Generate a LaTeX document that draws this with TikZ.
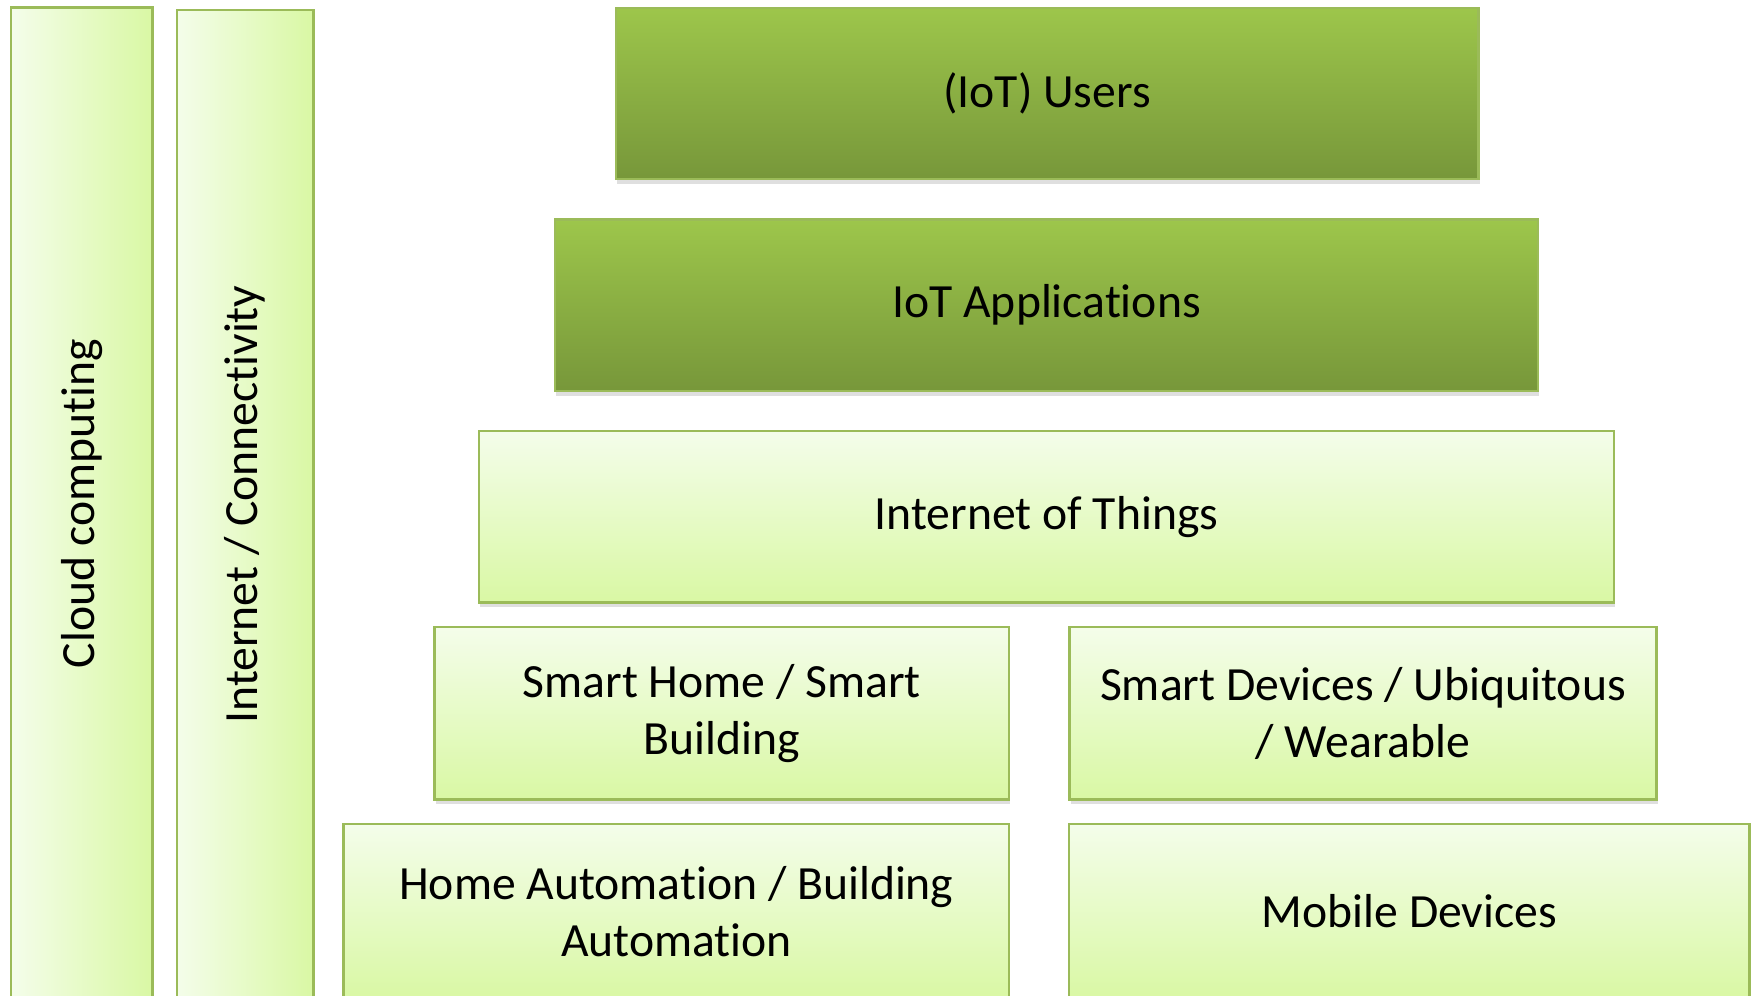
\documentclass[tikz,border=0pt]{standalone}
\usepackage{fontspec}
\setmainfont[Ligatures=NoCommon]{Carlito}
\usetikzlibrary{shadows}
\definecolor{lineg}{HTML}{9BBB59}
\definecolor{paletop}{HTML}{F4FDEA}
\definecolor{palebot}{HTML}{D9F8A4}
\definecolor{darktop}{HTML}{9DC64B}
\definecolor{darkbot}{HTML}{77973A}
\tikzset{
  layer/.style={draw=lineg, line width=0.6pt, inner sep=0pt, align=center,
    font=\fontsize{12.1pt}{14.5pt}\selectfont},
  palebox/.style={layer, top color=paletop, bottom color=palebot,
    drop shadow={shadow xshift=0.3pt, shadow yshift=-1.2pt, opacity=0.25}},
  darkbox/.style={layer, top color=darktop, bottom color=darkbot,
    drop shadow={shadow xshift=0.3pt, shadow yshift=-1.2pt, opacity=0.25}},
  pillar/.style={layer, left color=paletop, right color=palebot, rotate=90}
}
\begin{document}
\begin{tikzpicture}[x=0.01cm,y=-0.01cm]
            \useasboundingbox (0,0) rectangle (1568,889);
            \clip (0,0) rectangle (1568,889);
            \node[pillar,minimum width=8.85cm,minimum height=1.26cm] (cloud) at (73,449.5) {Cloud computing};
            \node[pillar,minimum width=8.83cm,minimum height=1.22cm] (inet) at (219,450.5) {Internet / Connectivity};
            \node[darkbox,minimum width=7.70cm,minimum height=1.53cm] (users) at (935,83.5) {(IoT) Users};
            \node[darkbox,minimum width=8.77cm,minimum height=1.53cm] (apps) at (934.5,272.5) {IoT Applications};
            \node[palebox,minimum width=10.13cm,minimum height=1.53cm] (iot) at (934.5,461.5) {Internet of Things};
            \node[palebox,minimum width=5.13cm,minimum height=1.54cm] (shome) at (644.5,637) {Smart Home / Smart\\Building};
            \node[palebox,minimum width=5.24cm,minimum height=1.54cm] (sdev) at (1217,637) {Smart Devices / Ubiquitous\\/ Wearable};
            \node[palebox,minimum width=5.94cm,minimum height=1.56cm] (hauto) at (604,814) {Home Automation / Building\\Automation};
            \node[palebox,minimum width=6.07cm,minimum height=1.56cm] (mobile) at (1258.5,814) {Mobile Devices};
\end{tikzpicture}
\end{document}
